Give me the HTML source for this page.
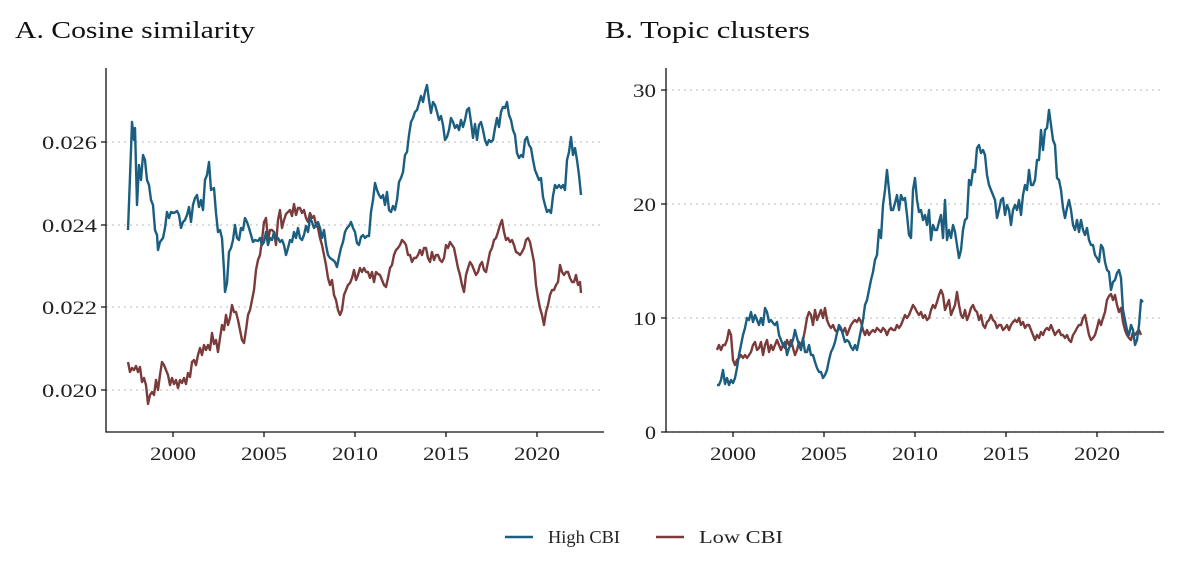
<!DOCTYPE html>
<html><head><meta charset="utf-8"><style>
html,body{margin:0;padding:0;background:#fff;}
svg{display:block;font-family:"Liberation Serif","DejaVu Serif",serif;}
</style></head><body>
<svg width="1181" height="567" viewBox="0 0 1181 567" xmlns="http://www.w3.org/2000/svg">
<rect width="1181" height="567" fill="#fff"/>
<text x="15" y="38" font-size="24" fill="#111" textLength="240" lengthAdjust="spacingAndGlyphs">A. Cosine similarity</text>
<text x="605" y="38" font-size="24" fill="#111" textLength="205" lengthAdjust="spacingAndGlyphs">B. Topic clusters</text>
<g stroke="#c8c8c8" stroke-width="1.2" stroke-dasharray="2,4">
<line x1="106" x2="604" y1="142" y2="142"/><line x1="106" x2="604" y1="225" y2="225"/>
<line x1="106" x2="604" y1="307" y2="307"/><line x1="106" x2="604" y1="390" y2="390"/>
<line x1="666" x2="1164" y1="90" y2="90"/><line x1="666" x2="1164" y1="204" y2="204"/>
<line x1="666" x2="1164" y1="318" y2="318"/><line x1="666" x2="1164" y1="432" y2="432"/>
</g>
<g stroke="#111" stroke-width="1.3" fill="none">
<path d="M106 68V432H604"/><path d="M666 68V432H1164"/>
<path d="M101 142h5M101 225h5M101 307h5M101 390h5M661 90h5M661 204h5M661 318h5M661 432h5"/>
<path d="M173 432v5M264 432v5M355 432v5M446 432v5M537 432v5M733 432v5M824 432v5M915 432v5M1006 432v5M1097 432v5"/>
</g>
<g font-size="19" fill="#222">
<text x="42" y="149" textLength="55" lengthAdjust="spacingAndGlyphs">0.026</text><text x="42" y="232" textLength="55" lengthAdjust="spacingAndGlyphs">0.024</text><text x="42" y="314" textLength="55" lengthAdjust="spacingAndGlyphs">0.022</text><text x="42" y="397" textLength="55" lengthAdjust="spacingAndGlyphs">0.020</text>
<text x="633" y="97" textLength="23" lengthAdjust="spacingAndGlyphs">30</text><text x="633" y="211" textLength="23" lengthAdjust="spacingAndGlyphs">20</text><text x="633" y="325" textLength="23" lengthAdjust="spacingAndGlyphs">10</text><text x="645" y="439" textLength="11" lengthAdjust="spacingAndGlyphs">0</text>
</g>
<g font-size="19" fill="#222">
<text x="150" y="460" textLength="46" lengthAdjust="spacingAndGlyphs">2000</text><text x="241" y="460" textLength="46" lengthAdjust="spacingAndGlyphs">2005</text><text x="332" y="460" textLength="46" lengthAdjust="spacingAndGlyphs">2010</text><text x="423" y="460" textLength="46" lengthAdjust="spacingAndGlyphs">2015</text><text x="514" y="460" textLength="46" lengthAdjust="spacingAndGlyphs">2020</text>
<text x="710" y="460" textLength="46" lengthAdjust="spacingAndGlyphs">2000</text><text x="801" y="460" textLength="46" lengthAdjust="spacingAndGlyphs">2005</text><text x="892" y="460" textLength="46" lengthAdjust="spacingAndGlyphs">2010</text><text x="983" y="460" textLength="46" lengthAdjust="spacingAndGlyphs">2015</text><text x="1074" y="460" textLength="46" lengthAdjust="spacingAndGlyphs">2020</text>
</g>
<g fill="none" stroke-width="2.4" stroke-linejoin="round">
<polyline stroke="#7a3b3b" points="128,362 130,372 132,368 134,370 136,366 138,372 140,367 142,382 144,378 146,385 148,404 150,395 152,392 154,395 156,380 158,390 160,375 162,362 164,365 166,370 168,375 170,385 172,378 174,384 176,380 178,388 180,380 182,383 184,378 186,384 188,373 190,377 192,362 194,360 196,365 198,355 200,348 202,355 204,345 206,350 208,345 210,350 212,333 214,344 216,340 218,352 220,338 222,325 224,330 226,315 228,325 230,318 232,305 234,312 236,312 238,320 240,330 242,340 244,343 246,330 248,315 250,310 252,300 254,290 256,270 258,260 260,255 262,240 264,222 266,218 268,240 270,230 272,230 274,232 276,245 278,220 280,210 282,228 284,220 286,214 288,212 290,210 292,216 294,204 296,215 298,208 300,208 302,213 304,210 306,218 308,222 310,213 312,218 314,216 316,225 318,228 320,238 322,245 324,255 326,265 328,278 330,285 332,280 334,295 336,300 338,310 340,315 342,310 344,295 346,290 348,285 350,283 352,278 354,270 356,280 358,275 360,268 362,272 364,268 366,272 368,272 370,278 372,272 374,282 376,272 378,274 380,275 382,280 384,285 386,287 388,278 390,268 392,265 394,255 396,250 398,248 400,245 402,240 404,242 406,245 408,255 410,255 412,262 414,258 416,258 418,255 420,250 422,255 424,248 426,248 428,258 430,262 432,252 434,260 436,255 438,255 440,260 442,262 444,258 446,245 448,248 450,242 452,245 454,248 456,258 458,268 460,275 462,285 464,292 466,275 468,268 470,262 472,265 474,270 476,275 478,272 480,265 482,262 484,270 486,272 488,262 490,252 492,248 494,240 496,238 498,232 500,225 502,220 504,232 506,240 508,238 510,242 512,240 514,245 516,252 518,253 520,255 522,252 524,248 526,240 528,238 530,242 532,252 534,262 536,285 538,298 540,308 542,315 544,325 546,312 548,305 550,295 552,290 554,290 556,285 558,282 560,265 562,272 564,275 566,272 568,272 570,278 572,282 574,282 576,275 578,285 580,282 581,293"/>
<polyline stroke="#1b5e80" points="128,230 131,150 132,122 134,140 135,128 137,205 139,165 141,180 143,155 145,160 147,180 149,185 151,200 153,205 155,230 157,235 158,250 160,242 163,238 165,228 167,212 169,218 171,212 174,213 177,211 179,215 181,228 183,222 185,220 187,215 189,207 191,222 193,205 195,198 197,195 199,207 201,200 203,210 205,180 207,175 209,162 211,190 214,188 216,213 218,232 220,230 222,238 224,270 225,292 227,283 229,252 231,248 233,240 235,225 237,238 239,240 241,228 243,230 245,218 247,222 249,228 251,235 253,242 255,240 258,241 260,238 262,245 264,242 266,232 268,245 270,238 272,240 274,232 276,240 278,238 280,242 282,240 284,245 286,255 288,248 290,240 292,242 294,232 296,238 298,228 300,238 302,240 304,235 306,226 308,232 310,218 312,222 314,228 316,225 318,222 320,228 322,238 324,230 326,245 328,255 330,258 333,260 335,262 337,267 339,257 341,248 343,242 345,232 347,228 349,226 351,222 353,228 355,232 357,243 359,245 361,237 363,235 365,238 367,236 369,236 371,212 373,200 375,183 377,190 379,195 381,198 383,195 385,205 387,192 389,210 391,212 393,206 395,210 397,200 399,182 401,178 403,172 405,155 407,152 409,135 411,122 413,118 415,112 417,110 419,103 421,96 423,102 425,92 427,85 429,100 431,113 433,102 435,105 437,112 439,120 441,116 443,125 445,140 447,137 449,130 451,118 453,122 455,128 457,125 459,130 461,120 463,127 465,120 467,110 469,108 471,122 473,138 475,124 477,140 479,125 481,122 483,130 485,140 487,145 489,140 491,142 493,140 495,128 497,118 499,127 501,112 503,107 505,108 507,102 509,115 511,120 513,130 515,135 517,153 519,158 521,155 523,157 525,140 527,137 529,145 531,148 533,160 535,170 537,175 539,180 541,178 543,197 545,205 547,212 549,210 551,213 553,196 555,185 557,188 559,185 561,188 563,185 565,190 567,160 569,152 571,137 573,155 575,148 577,160 579,175 581,195"/>
<polyline stroke="#7a3b3b" points="717,350 719,345 721,350 723,345 725,345 727,340 729,330 731,335 733,360 735,365 737,360 739,358 741,355 743,358 745,355 747,358 749,355 751,352 753,345 755,342 757,350 759,348 761,342 763,355 765,345 767,340 769,352 771,345 773,350 775,345 777,340 779,345 781,350 783,345 785,348 787,340 789,345 791,340 793,348 795,355 797,350 799,342 801,345 803,340 805,330 807,318 809,312 811,315 813,325 815,310 817,320 819,315 821,310 823,318 825,308 827,320 829,325 831,328 833,325 835,330 837,332 839,328 841,330 843,332 845,328 847,335 849,330 851,325 853,322 855,320 857,322 859,318 861,322 863,330 865,335 867,330 869,335 871,332 873,330 875,332 877,328 879,330 881,332 883,328 885,330 887,335 889,330 891,328 893,330 895,330 897,325 899,328 901,325 903,320 905,315 907,318 909,315 911,310 913,305 915,308 917,312 919,315 921,312 923,318 925,315 927,320 929,318 931,310 933,305 935,308 937,302 939,295 941,290 943,295 945,310 947,305 949,300 951,315 953,310 955,305 957,292 959,305 961,315 963,318 965,310 967,320 969,315 971,308 973,305 975,310 977,312 979,320 981,315 983,325 985,328 987,322 989,320 991,315 993,320 995,322 997,328 999,325 1001,325 1003,330 1005,328 1007,325 1009,330 1011,325 1013,322 1015,320 1017,322 1019,318 1021,325 1023,322 1025,328 1027,325 1029,325 1031,330 1033,335 1035,340 1037,335 1039,338 1041,332 1043,335 1045,330 1047,328 1049,330 1051,325 1053,330 1055,335 1057,332 1059,330 1061,335 1063,335 1065,338 1067,335 1069,340 1071,342 1073,335 1075,332 1077,328 1079,325 1081,325 1083,318 1085,315 1087,325 1089,335 1091,340 1093,338 1095,335 1097,328 1099,320 1101,325 1103,318 1105,312 1107,300 1109,296 1111,294 1113,300 1115,295 1117,305 1119,312 1121,308 1123,322 1125,330 1127,335 1129,338 1131,340 1133,332 1135,335 1137,332 1139,330 1141,335"/>
<polyline stroke="#1b5e80" points="717,385 719,385 721,380 723,370 725,384 727,378 729,385 731,380 733,383 735,378 737,368 739,355 741,345 743,335 745,328 747,318 749,320 751,312 753,322 755,315 757,320 759,325 761,318 763,325 765,308 767,312 769,322 771,320 773,323 775,325 777,322 779,335 781,340 783,345 785,342 787,355 789,348 791,345 793,340 795,330 797,338 799,345 801,350 803,338 805,352 807,352 809,345 811,355 813,355 815,362 817,368 819,372 821,372 823,378 825,375 827,370 829,360 831,352 833,348 835,342 837,333 839,325 841,328 843,335 845,342 847,340 849,342 851,347 853,350 855,345 857,350 859,340 861,330 863,320 865,305 867,300 869,290 871,280 873,272 875,260 877,255 879,230 881,238 883,205 885,190 887,170 889,190 891,210 893,210 895,203 897,195 899,210 901,195 903,200 905,198 907,215 909,235 911,238 913,190 915,178 917,200 919,212 921,210 923,220 925,215 927,225 929,210 931,240 933,225 935,230 937,230 939,222 941,215 943,238 945,200 947,240 949,230 951,238 953,225 955,232 957,245 959,258 961,250 963,230 965,220 967,218 969,180 971,185 973,170 975,172 977,148 979,145 981,153 983,150 985,155 987,175 989,185 991,190 993,195 995,200 997,218 999,210 1001,200 1003,198 1005,215 1007,205 1009,210 1011,225 1013,210 1015,205 1017,210 1019,200 1021,215 1023,195 1025,185 1027,190 1029,170 1031,185 1033,185 1035,180 1037,160 1039,160 1041,130 1043,150 1045,130 1047,128 1049,110 1051,125 1053,140 1055,145 1057,178 1059,180 1061,190 1063,208 1065,218 1067,208 1069,200 1071,210 1073,225 1075,230 1077,220 1079,232 1081,220 1083,230 1085,235 1087,228 1089,240 1091,245 1093,245 1095,255 1097,258 1099,262 1101,245 1103,248 1105,262 1107,270 1109,272 1111,290 1113,282 1115,280 1117,273 1119,270 1121,278 1123,310 1125,320 1127,330 1129,335 1131,325 1133,330 1135,345 1137,340 1139,325 1141,300 1143,302"/>
</g>
<line x1="505" x2="533" y1="537" y2="537" stroke="#1b5e80" stroke-width="2.6"/>
<text x="548" y="543" font-size="18" fill="#222" textLength="72" lengthAdjust="spacingAndGlyphs">High CBI</text>
<line x1="656" x2="684" y1="537" y2="537" stroke="#7a3b3b" stroke-width="2.6"/>
<text x="699" y="543" font-size="18" fill="#222" textLength="84" lengthAdjust="spacingAndGlyphs">Low CBI</text>
</svg>
</body></html>
